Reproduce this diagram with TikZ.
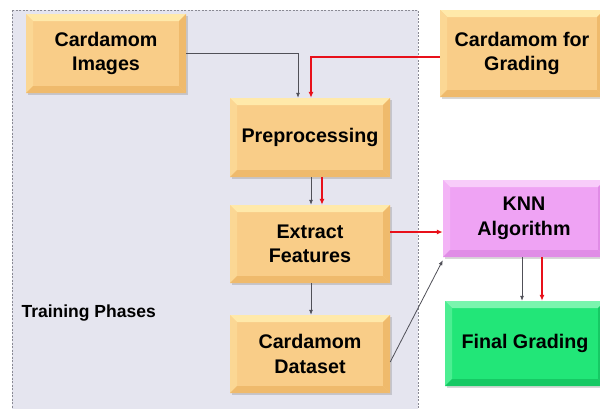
\documentclass[tikz,border=0pt]{standalone}
\usepackage{fontspec}
\setmainfont{Liberation Sans}
\usetikzlibrary{arrows.meta,shadows,calc}

\definecolor{regionfill}{HTML}{E5E5EF}
\definecolor{regionline}{HTML}{8A8A94}
\definecolor{orFace}{HTML}{F9CD88}
\definecolor{orTop}{HTML}{FFE9AA}
\definecolor{orLeft}{HTML}{FBD794}
\definecolor{orDark}{HTML}{EFBA6C}
\definecolor{pkFace}{HTML}{EFA3F4}
\definecolor{pkTop}{HTML}{F8CCFA}
\definecolor{pkLeft}{HTML}{F3B4F6}
\definecolor{pkDark}{HTML}{E08CE6}
\definecolor{gnFace}{HTML}{22E678}
\definecolor{gnTop}{HTML}{7AF5AE}
\definecolor{gnLeft}{HTML}{4CEE92}
\definecolor{gnDark}{HTML}{16C964}
\definecolor{linkgray}{HTML}{505058}
\definecolor{linkred}{HTML}{E8101A}

\tikzset{
  % bevelled box: face colour, top bevel, left bevel, dark bevel (right/bottom)
  bevelbox/.style n args={4}{
    fill=#1, inner sep=0pt, align=center,
    font=\bfseries\fontsize{19.7}{24.5}\selectfont,
    drop shadow={shadow xshift=1.5pt, shadow yshift=-2pt, opacity=0.25, fill=black!60},
    path picture={
      \coordinate (bbnw) at (path picture bounding box.north west);
      \coordinate (bbne) at (path picture bounding box.north east);
      \coordinate (bbsw) at (path picture bounding box.south west);
      \coordinate (bbse) at (path picture bounding box.south east);
      \fill[#2] (bbnw) -- (bbne) -- ([shift={(-7pt,-7pt)}]bbne) -- ([shift={(7pt,-7pt)}]bbnw) -- cycle;
      \fill[#3] (bbnw) -- ([shift={(7pt,-7pt)}]bbnw) -- ([shift={(7pt,7pt)}]bbsw) -- (bbsw) -- cycle;
      \fill[#4] (bbne) -- ([shift={(-7pt,-7pt)}]bbne) -- ([shift={(-7pt,7pt)}]bbse) -- (bbse) -- cycle;
      \fill[#4] (bbsw) -- ([shift={(7pt,7pt)}]bbsw) -- ([shift={(-7pt,7pt)}]bbse) -- (bbse) -- cycle;
    }
  },
  orangebox/.style={bevelbox={orFace}{orTop}{orLeft}{orDark}},
  pinkbox/.style={bevelbox={pkFace}{pkTop}{pkLeft}{pkDark}},
  greenbox/.style={bevelbox={gnFace}{gnTop}{gnLeft}{gnDark}},
  thinlink/.style={draw=linkgray, line width=0.8pt, -{Latex[length=5pt,width=4pt]}},
  redlink/.style={draw=linkred, line width=1.8pt, -{Latex[length=6pt,width=5pt]}},
}

\begin{document}
\begin{tikzpicture}[x=1pt,y=-1pt]
  \useasboundingbox (0,0) rectangle (600,408);
  \fill[white] (0,0) rectangle (600,408);

  % training region
  \draw[fill=regionfill, draw=regionline, line width=0.7pt, dash pattern=on 2pt off 1.5pt]
    (12,10) rectangle (418,412);
  \node[anchor=west, font=\bfseries\fontsize{17.5}{20}\selectfont] (phase) at (18,313) {Training Phases};

  % process boxes
  \node[orangebox, minimum width=160pt, minimum height=79pt] (img) at (106,53.5) {Cardamom\\Images};
  \node[orangebox, minimum width=160pt, minimum height=79pt] (pre) at (310,137.5) {Preprocessing};
  \node[orangebox, minimum width=160pt, minimum height=78pt] (ext) at (310,244) {Extract\\Features};
  \node[orangebox, minimum width=160pt, minimum height=78pt] (ds) at (310,354) {Cardamom\\Dataset};
  \node[orangebox, minimum width=164pt, minimum height=87pt] (cfg) at (522,53.5) {Cardamom for\\Grading};
  \node[pinkbox, minimum width=162pt, minimum height=77pt] (knn) at (524,218.5) {KNN\\Algorithm};
  \node[greenbox, minimum width=160pt, minimum height=85pt] (fg) at (525,343.5) {Final Grading};

  % training path
  \draw[thinlink] ([yshift=0.5pt]img.east) -| ([xshift=-12pt]pre.north);
  \draw[thinlink] ([xshift=1pt]pre.south) -- ([xshift=1pt]pre.south |- ext.north);
  \draw[thinlink] ([xshift=1pt]ext.south) -- ([xshift=1pt]ext.south |- ds.north);
  \draw[thinlink] ([yshift=-8pt]ds.east) -- ([yshift=-3pt]knn.south west);
  \draw[thinlink] ([xshift=-2pt]knn.south) -- ([xshift=-2pt]knn.south |- fg.north);

  % grading path
  \coordinate (gradout) at ([yshift=-3.5pt]cfg.west);
  \coordinate (gradin) at ([xshift=1pt]pre.north);
  \draw[redlink] (gradout) -- (gradout -| gradin) -- (gradin);
  \draw[redlink] ([xshift=12pt]pre.south) -- ([xshift=12pt]pre.south |- ext.north);
  \draw[redlink] ([yshift=12pt]ext.east) coordinate (extout) -- (extout -| knn.west);
  \draw[redlink] ([xshift=18pt]knn.south) -- ([xshift=18pt]knn.south |- fg.north);
\end{tikzpicture}
\end{document}
